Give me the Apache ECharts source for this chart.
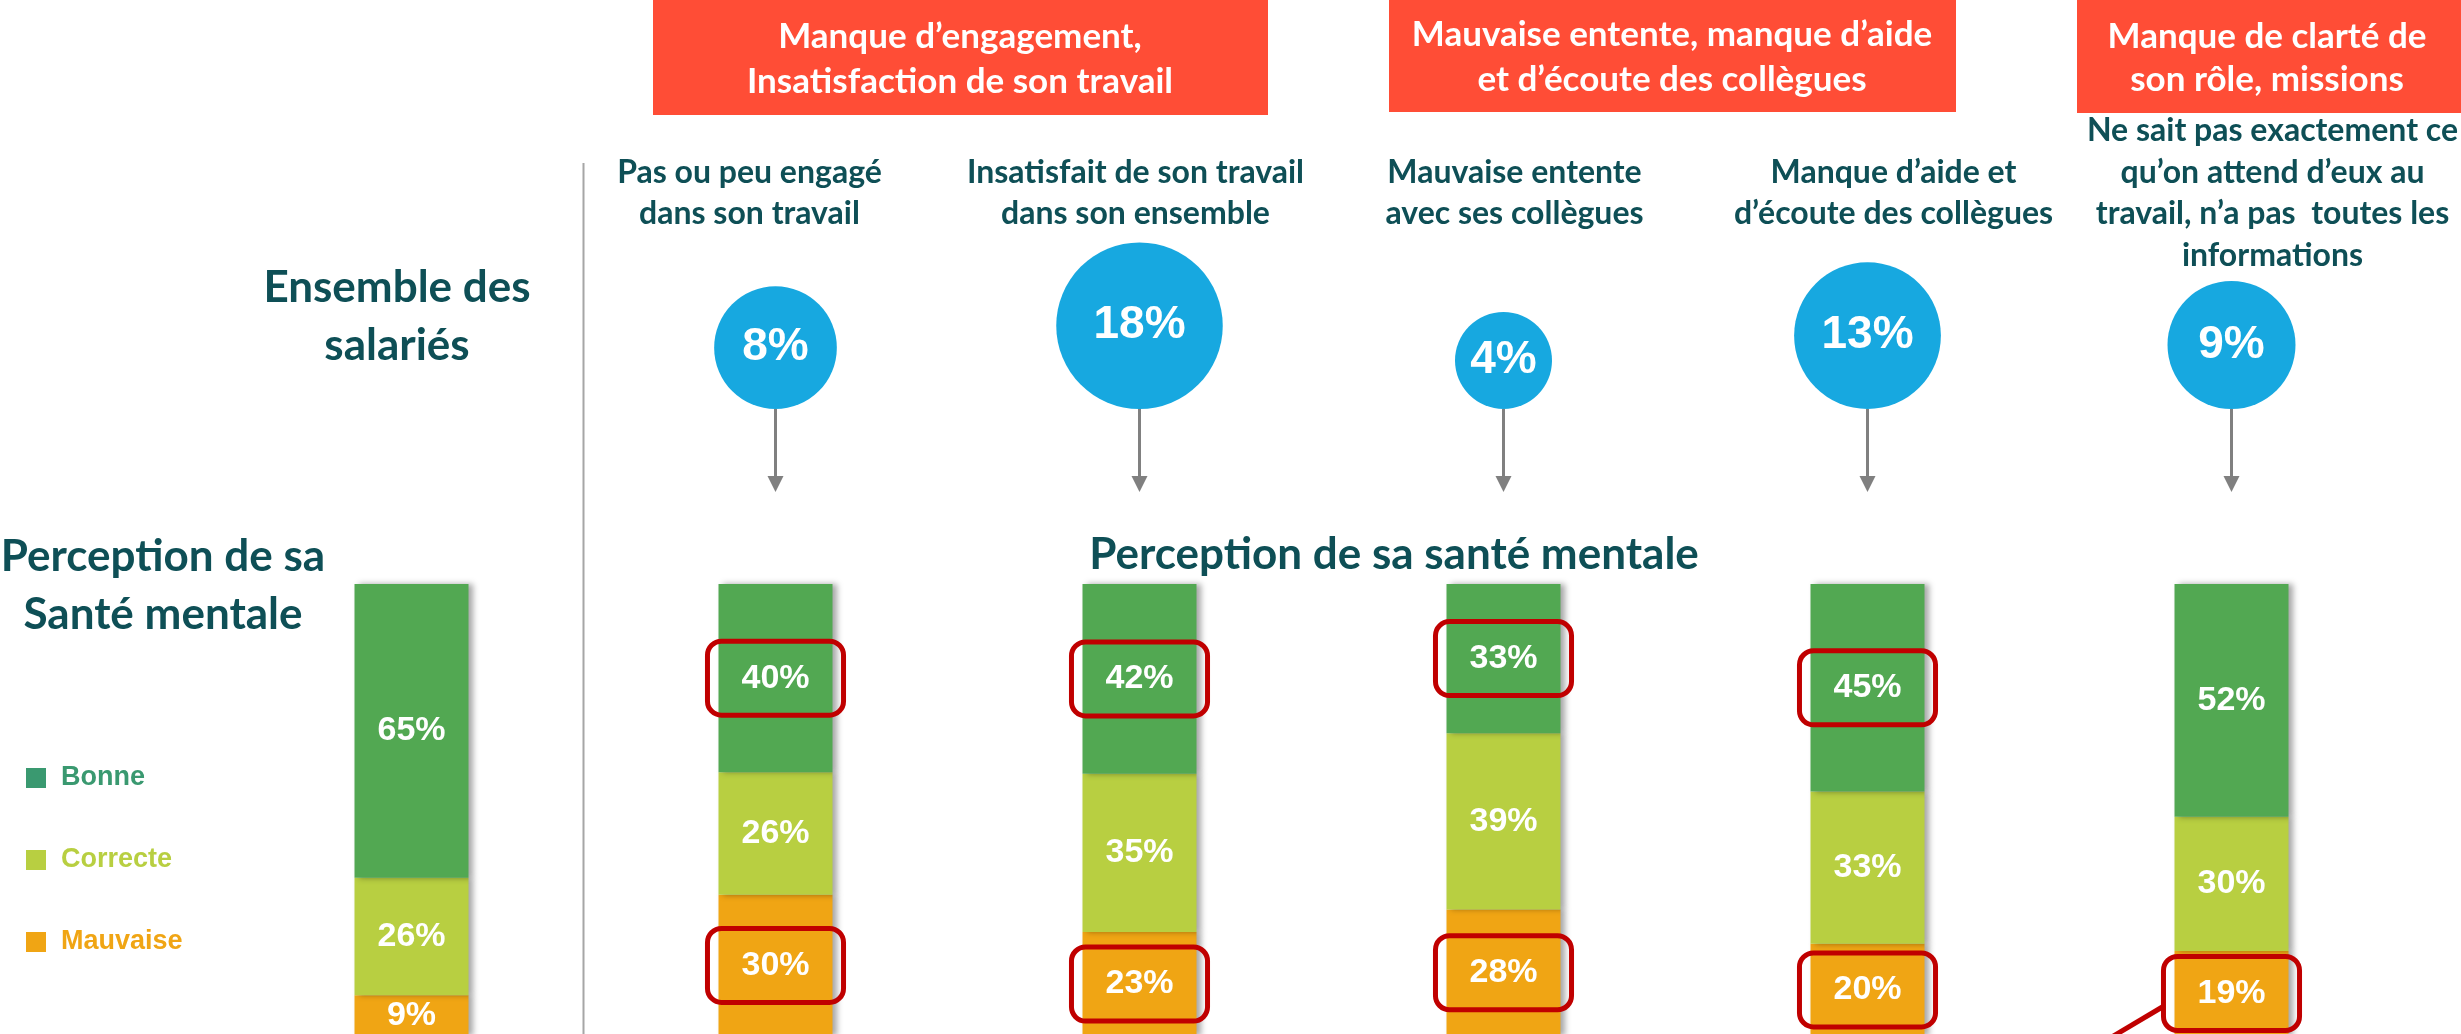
<!DOCTYPE html>
<html>
<head>
<meta charset="utf-8">
<script src="https://cdn.jsdelivr.net/npm/echarts@6/dist/echarts.min.js"></script>
<style>
  html, body { margin: 0; padding: 0; background: #fff; }
  #main { width: 2461px; height: 1034px; }
</style>
</head>
<body>
<div id="main"></div>
<script>
// --- data ---
var categories = [
    'Ensemble des salariés',
    'Pas ou peu engagé\ndans son travail',
    'Insatisfait de son travail\ndans son ensemble',
    'Mauvaise entente\navec ses collègues',
    'Manque d’aide et\nd’écoute des collègues',
    'Ne sait pas exactement ce\nqu’on attend d’eux au\ntravail, n’a pas  toutes les\ninformations'
]
var concerned = [null, 8, 18, 4, 13, 9]   // % des salariés concernés
var bonne = [65, 40, 42, 33, 45, 52]
var correcte = [26, 26, 35, 39, 33, 30]
var mauvaise = [9, 30, 23, 28, 20, 19]
var circledBonne = [1, 2, 3, 4]
var circledMauvaise = [1, 2, 3, 4, 5]
var groupTitles = [
    'Manque d’engagement,\nInsatisfaction de son travail',
    'Mauvaise entente, manque d’aide\net d’écoute des collègues',
    'Manque de clarté de\nson rôle, missions'
]

// --- layout / style ---
var teal = '#0E4F56'
var titleFont = 'Lato, "Open Sans", sans-serif'
var numFont = '"Liberation Sans", Arial, sans-serif'
var gridLeft = 229.5
var gridWidth = 2184
var labelShift = [0, -26, -4, 11, 26, 41]
var subLineHeight = 41.5

var echart = echarts.init(document.getElementById('main'))

var totals = bonne.map(function (b, i) { return b + correcte[i] + mauvaise[i] })

var boxedLabel = {
    borderColor: '#C00000',
    borderWidth: 5,
    borderRadius: 14,
    padding: [20, 34]
}

function barSeries(name, values, color, circled) {
    return {
        name: name,
        type: 'bar',
        stack: 'sante',
        xAxisIndex: 0,
        yAxisIndex: 0,
        barWidth: 114,
        itemStyle: {
            color: color,
            shadowColor: 'rgba(0,0,0,0.35)',
            shadowBlur: 6,
            shadowOffsetX: 4
        },
        label: {
            show: true,
            position: 'inside',
            color: '#fff',
            fontFamily: numFont,
            fontWeight: 'bold',
            fontSize: 34,
            lineHeight: 34,
            formatter: function (p) { return p.data.raw + '%' }
        },
        data: values.map(function (v, i) {
            var item = { value: v / totals[i] * 100, raw: v }
            if (circled.indexOf(i) >= 0) item.label = boxedLabel
            return item
        })
    }
}

var circleData = []
var arrowData = []
concerned.forEach(function (v, i) {
    if (v == null) return
    var d = 35 + 31 * Math.sqrt(v)
    circleData.push({
        value: [i, 0],
        pct: v,
        symbolSize: d,
        symbolOffset: [0, -d / 2]
    })
    arrowData.push([i, 0])
})

// les libellés sont alignés en bas : on les recentre verticalement
var maxLines = Math.max.apply(null, categories.map(function (c) { return c.split('\n').length }))
var axisCats = categories.map(function (c, i) {
    if (i === 0) return ''
    var s = labelShift[i]
    var padBottom = (maxLines - c.split('\n').length) * subLineHeight / 2
    return {
        value: c,
        textStyle: { padding: s > 0 ? [0, 0, padBottom, 2 * s] : [0, -2 * s, padBottom, 0] }
    }
})

function txt(text, x, y, size, color, lineHeight) {
    return {
        type: 'text',
        x: x,
        y: y,
        z: 10,
        style: {
            text: text,
            fill: color,
            font: 'bold ' + size + 'px ' + titleFont,
            fontSize: size,
            fontWeight: 'bold',
            fontFamily: titleFont,
            lineHeight: lineHeight || size,
            align: 'center',
            textAlign: 'center',
            verticalAlign: 'middle',
            textVerticalAlign: 'middle'
        }
    }
}

var option = {
    backgroundColor: '#fff',
    animation: false,
    legend: {
        orient: 'vertical',
        left: 26,
        top: 764,
        padding: 0,
        itemWidth: 20,
        itemHeight: 20,
        itemGap: 54,
        icon: 'rect',
        selectedMode: false,
        textStyle: {
            fontFamily: numFont,
            fontWeight: 'bold',
            fontSize: 27,
            lineHeight: 28,
            padding: [0, 0, 0, 10]
        },
        data: [
            { name: 'Bonne', itemStyle: { color: '#3A9970' }, textStyle: { color: '#3A9970' } },
            { name: 'Correcte', itemStyle: { color: '#B8CF41' }, textStyle: { color: '#B8CF41' } },
            { name: 'Mauvaise', itemStyle: { color: '#F0A514' }, textStyle: { color: '#F0A514' } }
        ]
    },
    grid: [
        { left: gridLeft, width: gridWidth, top: 584, height: 452, outerBoundsMode: 'none' },
        { left: gridLeft, width: gridWidth, top: 300, height: 109, outerBoundsMode: 'none' }
    ],
    xAxis: [
        {
            type: 'category', gridIndex: 0, data: categories,
            axisLine: { show: false }, axisTick: { show: false }, axisLabel: { show: false }
        },
        {
            type: 'category', gridIndex: 1, data: axisCats, position: 'top',
            axisLine: { show: false }, axisTick: { show: false },
            axisLabel: {
                interval: 0,
                margin: 24,
                color: teal,
                fontFamily: titleFont,
                fontWeight: 'bold',
                fontSize: 32,
                lineHeight: subLineHeight
            }
        }
    ],
    yAxis: [
        { type: 'value', gridIndex: 0, min: 0, max: 100, show: false },
        { type: 'value', gridIndex: 1, min: 0, max: 1, show: false }
    ],
    series: [
        barSeries('Mauvaise', mauvaise, '#F0A514', circledMauvaise),
        barSeries('Correcte', correcte, '#B8CF41', []),
        barSeries('Bonne', bonne, '#52A852', circledBonne),
        { //les bulles
            type: 'scatter',
            xAxisIndex: 1,
            yAxisIndex: 1,
            itemStyle: { color: '#17A8E0', opacity: 1 },
            label: {
                show: true,
                position: 'inside',
                color: '#fff',
                fontFamily: numFont,
                fontWeight: 'bold',
                fontSize: 46,
                formatter: function (p) { return p.data.pct + '%' }
            },
            data: circleData,
            z: 3
        },
        { //les fleches
            type: 'custom',
            xAxisIndex: 1,
            yAxisIndex: 1,
            renderItem: function (params, api) {
                var p = api.coord([api.value(0), 0])
                return {
                    type: 'group',
                    children: [
                        { type: 'line', shape: { x1: p[0], y1: p[1], x2: p[0], y2: p[1] + 72 }, style: { stroke: '#808080', lineWidth: 3 } },
                        { type: 'polygon', shape: { points: [[p[0] - 8, p[1] + 67], [p[0] + 8, p[1] + 67], [p[0], p[1] + 83]] }, style: { fill: '#808080' } }
                    ]
                }
            },
            data: arrowData,
            z: 2
        }
    ],
    graphic: [
        { type: 'rect', shape: { x: 653, y: 0, width: 615, height: 115 }, style: { fill: '#FF4D36' } },
        { type: 'rect', shape: { x: 1389, y: 0, width: 567, height: 112 }, style: { fill: '#FF4D36' } },
        { type: 'rect', shape: { x: 2077, y: 0, width: 384, height: 113 }, style: { fill: '#FF4D36' } },
        txt(groupTitles[0], 960, 59.5, 35, '#fff', 45),
        txt(groupTitles[1], 1672, 57.5, 35, '#fff', 45),
        txt(groupTitles[2], 2267, 58.5, 35, '#fff', 43),
        txt('Ensemble des\nsalariés', 397, 317, 44, teal, 58),
        txt('Perception de sa\nSanté mentale', 163, 586, 44, teal, 58),
        txt('Perception de sa santé mentale', 1394, 555, 44, teal),
        { type: 'line', shape: { x1: 583.5, y1: 163, x2: 583.5, y2: 1034 }, style: { stroke: '#A6A6A6', lineWidth: 2 } },
        { type: 'line', z: 10, shape: { x1: 2164, y1: 1006, x2: 2100, y2: 1044 }, style: { stroke: '#C00000', lineWidth: 5 } }
    ]
}

echart.setOption(option)
</script>
</body>
</html>
